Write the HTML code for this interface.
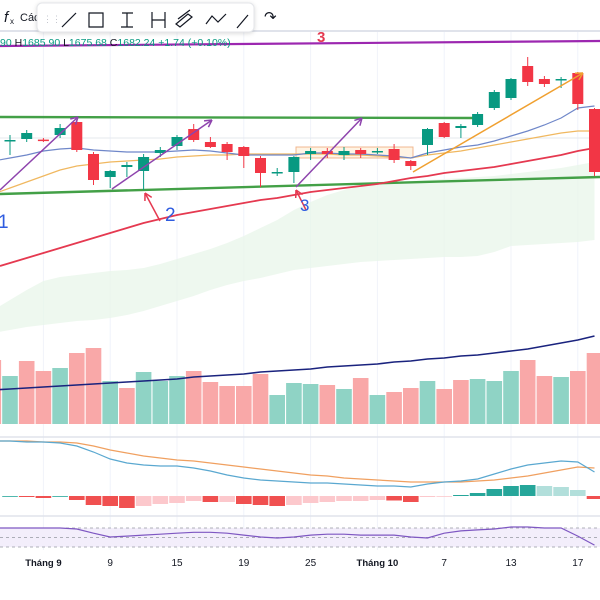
<!DOCTYPE html>
<html><head><meta charset="utf-8"><style>
html,body{margin:0;padding:0;background:#fff;width:600px;height:600px;overflow:hidden;font-family:"Liberation Sans",sans-serif}
svg{position:absolute;left:0;top:0}
</style></head><body>
<svg id="c" width="600" height="600" xmlns="http://www.w3.org/2000/svg"></svg>
<script>
const open_=[1650,1650.5,1650.2,1652.5,1659,1643,1631.5,1636.5,1634.5,1643.5,1647,1655.5,1649,1648,1646.5,1641,1634,1634,1643,1644.5,1642.5,1645,1644.5,1645.5,1639.5,1647.5,1658.5,1656,1657.5,1666,1671,1687,1680.5,1680,1683.5,1665.5];
const close_=[1650,1653.5,1650,1656,1645,1630,1634.5,1637.5,1641.5,1645,1651.5,1650,1646.5,1644,1642,1633.5,1634,1641.5,1644.5,1643,1644.5,1643,1644.5,1640,1637,1655.5,1651.5,1657,1663,1674,1680.5,1679,1678,1680.5,1668,1634];
const high_=[1652.5,1655,1651,1658,1660,1644,1635,1639,1643,1646.5,1652.5,1658,1651.5,1649,1647,1642,1636,1642,1646,1646,1646.5,1646,1646,1648,1640,1656,1659,1658,1664,1675,1681,1691.5,1682,1681.5,1684,1666];
const low_=[1642.5,1649,1649,1651,1644,1627.5,1626,1631.5,1625,1641.5,1645,1649,1646,1640,1636,1626.5,1632,1628.5,1640,1641,1640,1641,1643,1638.5,1635,1642.5,1651,1651,1656.5,1665,1670,1677,1676.5,1676,1665,1632];
const maFast=[1641,1642.5,1644.5,1645.5,1646,1645,1644.5,1644,1644,1644,1644.5,1645,1644.5,1643.5,1642.5,1642.5,1642.5,1642.5,1643.5,1643.5,1643,1643,1642.5,1642,1641,1643.5,1645,1646.5,1647.5,1649.5,1652,1654.5,1657.5,1661,1666,1667];
const maMid=[1626,1629,1632,1635,1637,1638,1639,1639.5,1640,1640.5,1641.5,1642,1642.5,1642.5,1643,1643,1643,1643,1643,1643,1642.5,1642.5,1642,1641.5,1641,1642.5,1643.5,1644.5,1646,1647.5,1649,1650.5,1652,1653.5,1654.5,1654.5];
const maSlow=[1588.5,1591,1593.5,1596,1598.5,1601,1603.5,1606,1608.5,1610.5,1612.5,1614,1615.5,1617,1618.5,1620,1621,1622.5,1624,1625,1626,1627,1628,1629.5,1631,1632,1633.5,1634.5,1635.5,1636.5,1638,1639.5,1641,1642.5,1644.5,1646];
const cloudTop=[1570,1575,1579.5,1581.5,1582.5,1583.5,1584.5,1585,1586,1588,1590.5,1593,1595.5,1598.5,1602,1606,1610,1615,1619,1622.5,1625,1627,1628.5,1629,1629.5,1630,1630.5,1631,1631.5,1632,1633,1634,1635,1636,1637.5,1639];
const cloudBot=[1555,1556.5,1557.5,1558.5,1559.5,1560,1561,1562.5,1564.5,1567,1569.5,1572,1575,1577.5,1579.5,1581,1583,1585,1586,1587,1588,1589,1589.5,1590,1590.5,1591,1591.5,1591.5,1592,1594,1597,1597.5,1598,1598.5,1599,1600];
const volume=[64,48,63,53,56,71,76,43,36,52,43,48,53,42,38,38,50,29,41,40,39,35,46,29,32,36,43,35,44,45,43,53,64,48,47,53,71];
const volUp=[0,1,0,0,1,0,0,1,0,1,1,1,0,0,0,0,0,1,1,1,0,1,0,1,0,0,1,0,0,1,1,1,0,0,1,0,0];
const volMA=[34,35,36,37,38,39,40,41,42,43,44,45,47,48,49,50,52,53,54,55,57,58,59,60,62,63,65,66,68,69,71,73,75,78,81,84,88];
const macd=[55,54,54,53,50,44,37,33,31,30,30,28,25,21,18,16,15,14,13,13,12,11,10,10,9,12,14,15,17,22,27,31,33,35,34,24];
const signal=[55,55,54,54,53,50,46,43,40,38,36,35,33,31,29,27,25,23,21,20,18,17,16,15,14,14,14,14,15,16,18,20,23,26,29,28];
const hist=[0,-1,-2,0,-4,-9,-10,-12,-10,-8,-7,-5,-6,-6,-8,-9,-10,-9,-7,-6,-5,-5,-4,-4.5,-6,-1,-0.5,1,3,7,10,11,10,9,6,-3];
const rsi=[70,70,70,70,68,59,51,53,55,57,59,61,61,59,55,51,49,51,55,57,57,55,55,55,51,49,59,64,66,68,72,72,70,70,53,34];
const dateLabels=["Tháng 9","9","15","19","25","Tháng 10","7","13","17"];
const dateIdx=[2,6,10,14,18,22,26,30,34];

const NS="http://www.w3.org/2000/svg", svg=document.getElementById('c');
const X=i=>10+16.7*i;
const Y=p=>(1720-p)*2;
const VY=v=>424-v;
const MY=v=>496-v;
const RY=v=>528+(70-v)*0.475;
function mk(tag,attrs,parent){const e=document.createElementNS(NS,tag);for(const k in attrs)e.setAttribute(k,attrs[k]);(parent||svg).appendChild(e);return e;}
function poly(arr,fx,fy,off){return arr.map((v,i)=>fx(i+(off||0)).toFixed(1)+','+fy(v).toFixed(1)).join(' ');}
function lead(arr,fy){return '0,'+(fy(arr[0])+(fy(arr[0])-fy(arr[1]))*0.6).toFixed(1)+' ';}

dateIdx.forEach(i=>{const g=mk('line',{x1:X(i),x2:X(i),y1:32,y2:550,stroke:'#f0f3fa','stroke-width':1});

});
[138].forEach(y=>{const g=mk('line',{x1:0,x2:600,y1:y,y2:y,stroke:'#e6e8ee','stroke-width':1});

});
[31,437,516].forEach(y=>{const s=mk('line',{x1:0,x2:600,y1:y,y2:y,stroke:'#e0e3eb','stroke-width':y==31?2:1.5});

});

const cl=mk('polygon',{points:lead(cloudTop,Y)+poly(cloudTop,X,Y)+' '+cloudBot.map((v,i)=>X(i)+','+Y(v)).reverse().join(' ')+' '+lead(cloudBot,Y),fill:'#e8f5e9',opacity:0.75});



volume.forEach((v,k)=>{const i=k-1;const r=mk('rect',{x:X(i)-7.8,y:VY(v),width:15.6,height:v,fill:volUp[k]?'#8fd3c5':'#f9a8a8'});

});
const vm=mk('polyline',{points:poly(volMA,X,VY,-1),fill:'none',stroke:'#1a237e','stroke-width':1.6});



function ln(x1,y1,x2,y2,c,w,name){const l=mk('line',{x1,y1,x2,y2,stroke:c,'stroke-width':w});return l;}
ln(0,46,600,41,'#9c27b0',2.2,'purple-trendline');
ln(0,117,475,118,'#43a047',2.4,'resistance-line');
ln(0,194,600,177,'#43a047',2.4,'support-line');
const box=mk('rect',{x:296,y:147,width:117,height:11,fill:'rgba(255,183,77,0.15)',stroke:'rgba(230,140,80,0.6)','stroke-width':1});



[[maSlow,'#e53950',1.8,'ma-slow-line'],[maMid,'#f0b860',1.2,'ma-mid-line'],[maFast,'#6f87c9',1.2,'ma-fast-line']].forEach(([a,c,w,n])=>{
const p=mk('polyline',{points:lead(a,Y)+poly(a,X,Y),fill:'none',stroke:c,'stroke-width':w});

});

open_.forEach((o,i)=>{const c=close_[i],up=c>=o,col=up?'#089981':'#f23645';
const g=mk('g',{});


mk('line',{x1:X(i),x2:X(i),y1:Y(high_[i]),y2:Y(low_[i]),stroke:col,'stroke-width':1},g);
const t=Math.min(Y(o),Y(c)),h=Math.max(1.5,Math.abs(Y(o)-Y(c)));
mk('rect',{x:X(i)-5.5,y:t,width:11,height:h,fill:col},g);});

function arrow(x1,y1,x2,y2,c,name){ln(x1,y1,x2,y2,c,1.5,name);const a=Math.atan2(y2-y1,x2-x1);
[0.5,-0.5].forEach(d=>ln(x2,y2,x2-8*Math.cos(a+d),y2-8*Math.sin(a+d),c,1.5,name+'-head'));}
arrow(0,190,78,117,'#8e44ad','arrow-1');
arrow(112,189,212,120,'#8e44ad','arrow-2');
arrow(296,187,362,118,'#8e44ad','arrow-3');
arrow(413,172,583,73,'#f0a030','arrow-orange');
arrow(160,221,145,193,'#e53950','red-arrow-2');
arrow(306,210,296,190,'#e53950','red-arrow-3');
function txt(s,x,y,o,name){const t=mk('text',Object.assign({x,y},o));t.textContent=s;return t;}
txt('1',-2,228,{fill:'#2f5ce0','font-size':19},'label-1');
txt('2',165,221,{fill:'#2f5ce0','font-size':19},'label-2');
txt('3',300,211,{fill:'#2f5ce0','font-size':17},'label-3');
txt('3',317,42,{fill:'#e53950','font-size':15,'font-weight':'bold'},'label-3-top');

const hc=hist.map((v,i)=>{const p=i?hist[i-1]:v;return v>=0?(v>=p?'#26a69a':'#b2dfdb'):(v<p?'#f05050':'#fcc8cc');});
hist.forEach((v,i)=>{const r=mk('rect',{x:X(i)-7.8,y:Math.min(MY(v),MY(0)),width:15.6,height:Math.max(0.8,Math.abs(v)),fill:hc[i]});

});
[[signal,'#f0a060','macd-signal-line'],[macd,'#5aa8d0','macd-line']].forEach(([a,c,n])=>{
const p=mk('polyline',{points:'0,'+MY(a[0])+' '+poly(a,X,MY),fill:'none',stroke:c,'stroke-width':1.2});

});

const band=mk('rect',{x:0,y:RY(70),width:600,height:RY(30)-RY(70),fill:'#f3eefb'});


[70,50,30].forEach(v=>{const l=mk('line',{x1:0,x2:600,y1:RY(v),y2:RY(v),stroke:'#9598a1','stroke-width':0.8,'stroke-dasharray':'3,3'});

});
const rl=mk('polyline',{points:'0,'+RY(rsi[0])+' '+poly(rsi,X,RY),fill:'none',stroke:'#7e57c2','stroke-width':1.2});



dateLabels.forEach((s,k)=>{txt(s,X(dateIdx[k]),566,{'font-size':s.length>2?9.5:10,fill:'#131722','text-anchor':'middle','font-weight':s.length>2?'bold':'normal'},'x-axis-label');});

const ht=mk('text',{x:0,y:46,'font-size':10.5});


[['90 ','#089981'],['H','#131722'],['1685.90 ','#089981'],['L','#131722'],['1675.68 ','#089981'],['C','#131722'],['1682.24 ','#089981'],['+1.74 (+0.10%)','#089981']].forEach(([s,c])=>{const sp=mk('tspan',{fill:c},ht);sp.textContent=s;});

txt('f',4,22,{'font-size':15,fill:'#131722','font-style':'italic'},'fx-icon');
txt('x',10,24,{'font-size':8,fill:'#131722'},'fx-icon-sub');
txt('Các',20,21,{'font-size':11,fill:'#131722'},'indicators-button');
const tb=mk('rect',{x:37,y:3,width:217,height:29,rx:5,fill:'#fff',stroke:'#e4e6ea','stroke-width':1,style:'filter:drop-shadow(0 1px 2px rgba(0,0,0,0.15))'});


const icons=[
 'M62,27 L76,13',
 'M89,13 H103 V27 H89 Z',
 'M122,13 H133 M127,13 V27 M121,27 H133',
 'M152,12 V28 M152,20 H165 M165,12 V28',
 'M176,24 L188,14 L192,17 L180,27 Z M178,19 L190,10',
 'M206,24 L212,16 L218,22 L226,14',
 'M237,28 L248,15'];
const inames=['trend-line-tool','rectangle-tool','price-range-tool','date-range-tool','parallel-channel-tool','path-tool','arrow-tool'];
icons.forEach((d,k)=>{const p=mk('path',{d,fill:'none',stroke:'#131722','stroke-width':1.2});

});
txt('⋮⋮',43,22,{'font-size':9,fill:'#c0c3cc'},'toolbar-drag-handle');
txt('↷',264,22,{'font-size':15,fill:'#131722'},'redo-button');
</script>
</body></html>
